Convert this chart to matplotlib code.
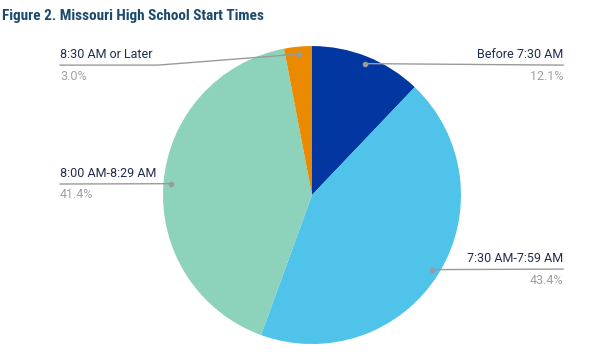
import numpy as np
import matplotlib.pyplot as plt

categories = ["Before 7:30 AM", "7:30 AM-7:59 AM", "8:00 AM-8:29 AM", "8:30 AM or Later"]
shares = [12.1, 43.4, 41.4, 3.0]
colors = ["#0236a0", "#4fc3ea", "#8dd3bb", "#ea8a00"]

# label anchors (x of text edge, y of underline, elbow x or None, alignment)
label_pos = [
    (1.685, 0.872, None, "right"),
    (1.685, -0.497, None, "right"),
    (-1.691, 0.074, None, "left"),
    (-1.691, 0.872, -1.034, "left"),
]

fig = plt.figure(figsize=(5.93, 3.64), dpi=100)
ax = fig.add_axes([0, 0, 1, 1])
ax.axis("off")

wedges, _ = ax.pie(shares, colors=colors, startangle=90, counterclock=False,
                   radius=1, center=(0, 0), wedgeprops=dict(linewidth=0))
ax.set_xlim(-2.094, 1.886)
ax.set_ylim(-1.134, 1.309)
ax.set_aspect("equal")

line_col = "#9a9a9a"
for w, cat, val, (lx, ly, ex, ha) in zip(wedges, categories, shares, label_pos):
    ang = np.deg2rad((w.theta1 + w.theta2) / 2)
    px, py = 0.95 * np.cos(ang), 0.95 * np.sin(ang)
    ax.plot(px, py, "o", color=line_col, ms=3, zorder=5)
    if ex is None:
        ax.plot([px, lx], [py, ly], color=line_col, lw=1, zorder=4)
    else:
        ax.plot([px, ex, lx], [py, ly, ly], color=line_col, lw=1, zorder=4)
    ax.text(lx, ly + 0.03, cat, ha=ha, va="bottom", fontsize=9,
            family="Roboto", color="#1f2d4d")
    ax.text(lx, ly - 0.03, f"{val:.1f}%", ha=ha, va="top", fontsize=9,
            family="Roboto", color="#a0a0a0")

fig.text(0.004, 0.955, "Figure 2. Missouri High School Start Times",
         ha="left", va="center", fontsize=11, fontweight="bold",
         family="Roboto Condensed", color="#1b4a6e")

fig.savefig("out.png", dpi=100)
